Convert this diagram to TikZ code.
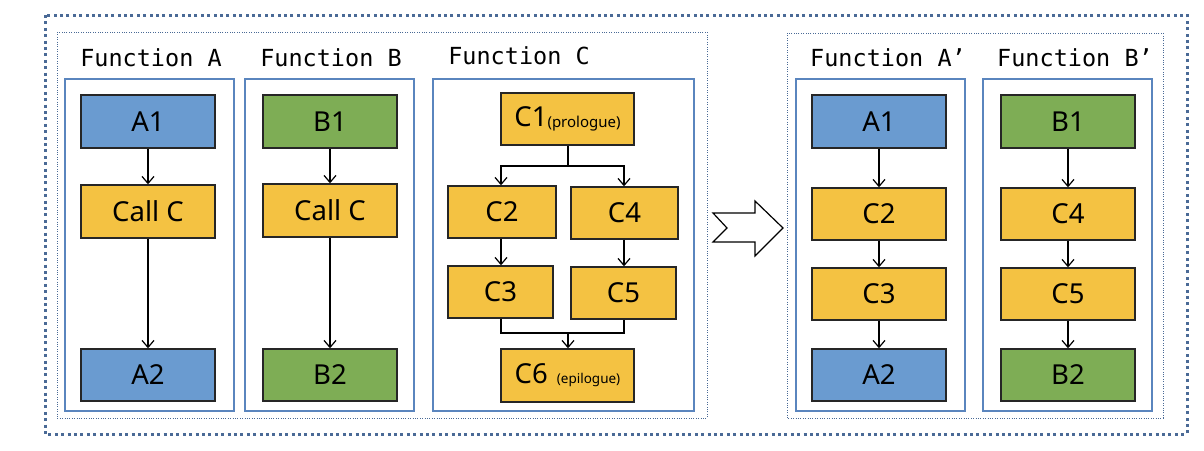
\documentclass[tikz,border=0pt]{standalone}
\usepackage{fontspec}
\setmainfont{Noto Sans}
\newfontfamily\monof{DejaVu Sans Mono}
\usetikzlibrary{arrows.meta}
\definecolor{fblue}{HTML}{6A9BD0}
\definecolor{fgreen}{HTML}{7EAD55}
\definecolor{fyellow}{HTML}{F4C242}
\definecolor{frame}{HTML}{5A85BE}
\definecolor{dotc}{HTML}{4A6A96}
\tikzset{
  x=1pt,y=-1pt,
  blk/.style={draw=black!85,line width=1.4pt,minimum width=134pt,minimum height=53pt,inner sep=0pt,font=\fontsize{27.5}{30}\selectfont},
  bblk/.style={blk,fill=fblue},
  gblk/.style={blk,fill=fgreen},
  yblk/.style={blk,fill=fyellow},
  container/.style={draw=frame,line width=1.3pt},
  title/.style={font=\monof\fontsize{23.5}{26}\selectfont,inner sep=0pt},
  conn/.style={line width=1.2pt,-{Straight Barb[length=7pt,width=12pt,line width=1.2pt]}},
  plain/.style={line width=1.2pt}
}
\begin{document}
\begin{tikzpicture}
\useasboundingbox (0,0) rectangle (1204,450);
% outer frames
\draw[dotc,line width=3pt,dash pattern=on 3pt off 3.4pt] (45,15) rectangle (1187,434);
\draw[dotc,line width=1pt,dash pattern=on 1pt off 1.4pt] (57,32) rectangle (707,418);
\draw[dotc,line width=1pt,dash pattern=on 1pt off 1.4pt] (787,33) rectangle (1163,418);
% containers
\draw[container] (65,79) rectangle (234,411);
\draw[container] (245,79) rectangle (414,411);
\draw[container] (433,79) rectangle (694,411);
\draw[container] (796,79) rectangle (965,411);
\draw[container] (983,79) rectangle (1152,411);
% titles
\node[title] (ta) at (151,58) {Function A};
\node[title] (tb) at (331,58) {Function B};
\node[title] (tc) at (519,56) {Function C};
\node[title] (tap) at (888,58) {Function A’};
\node[title] (tbp) at (1075,58) {Function B’};
% Function A
\node[bblk] (a1) at (148,121.5) {A1};
\node[yblk] (ca) at (148,211.5) {Call C};
\node[bblk,minimum height=52pt] (a2) at (148,375) {A2};
\draw[conn] (a1) -- (ca);
\draw[conn] (ca) -- (a2);
% Function B
\node[gblk] (b1) at (330,121.5) {B1};
\node[yblk] (cb) at (330,210.5) {Call C};
\node[gblk,minimum height=52pt] (b2) at (330,375) {B2};
\draw[conn] (b1) -- (cb);
\draw[conn] (cb) -- (b2);
% Function C
\node[yblk,minimum width=133pt,minimum height=52pt] (c1) at (567.5,119) {C1\raisebox{-1pt}{\fontsize{15}{17}\selectfont(prologue)}};
\node[yblk,minimum width=108pt,minimum height=52pt] (c2) at (502,212) {C2};
\node[yblk,minimum width=107pt,minimum height=52pt] (c4) at (624.5,213) {C4};
\node[yblk,minimum width=105pt,minimum height=52pt] (c3) at (500.5,292) {C3};
\node[yblk,minimum width=105pt,minimum height=52pt] (c5) at (623.5,293) {C5};
\node[yblk,minimum width=133pt,minimum height=53pt] (c6) at (567.5,375.5) {C6\hspace{9pt}\raisebox{0pt}{\fontsize{13.5}{16}\selectfont(epilogue)}};
\coordinate (split) at (568,166);
\coordinate (merge) at (568,333);
\draw[plain] (c1.south -| split) -- (split);
\draw[conn] (split) -| (c2.north -| 501,0);
\draw[conn] (split) -| (c4.north -| 624,0);
\draw[conn] (c2.south -| 501,0) -- (c3.north -| 501,0);
\draw[conn] (c4.south -| 624,0) -- (c5.north -| 624,0);
\draw[plain] (c3.south -| 501,0) |- (merge) -| (c5.south -| 624,0);
\draw[conn] (merge) -- (c6.north -| merge);
% transform arrow
\draw[line width=1.2pt,fill=white,line join=miter]
  (713,213) -- (755,213) -- (755,201) -- (783,228) -- (755,256) -- (755,242) -- (713,242) -- (727,228) -- cycle;
% Function A'
\node[bblk] (pa1) at (879,121.5) {A1};
\node[yblk,minimum height=52pt] (pc2) at (879,214) {C2};
\node[yblk,minimum height=52pt] (pc3) at (879,294) {C3};
\node[bblk,minimum height=52pt] (pa2) at (879,375) {A2};
\draw[conn] (pa1) -- (pc2);
\draw[conn] (pc2) -- (pc3);
\draw[conn] (pc3) -- (pa2);
% Function B'
\node[gblk] (pb1) at (1068,121.5) {B1};
\node[yblk,minimum height=52pt] (pc4) at (1068,214) {C4};
\node[yblk,minimum height=52pt] (pc5) at (1068,294) {C5};
\node[gblk,minimum height=52pt] (pb2) at (1068,375) {B2};
\draw[conn] (pb1) -- (pc4);
\draw[conn] (pc4) -- (pc5);
\draw[conn] (pc5) -- (pb2);
\end{tikzpicture}
\end{document}
